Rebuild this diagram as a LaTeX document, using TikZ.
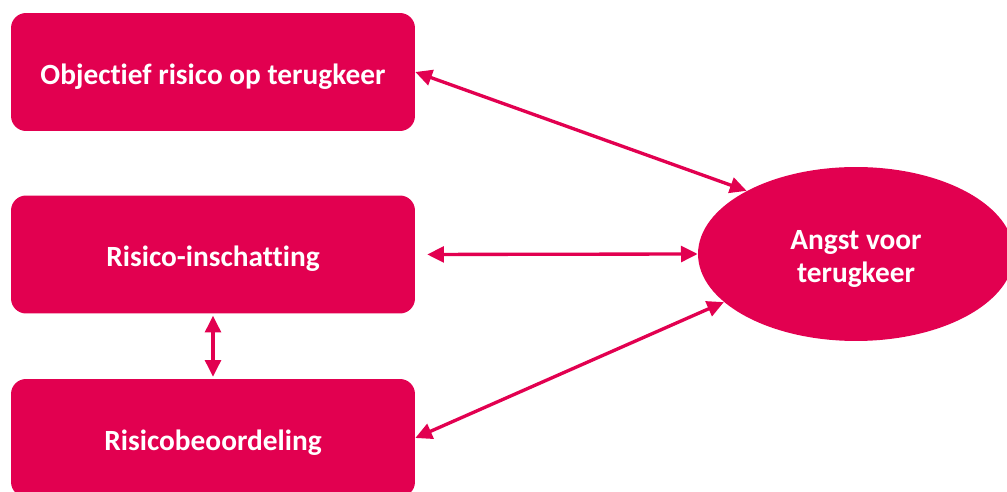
\documentclass[tikz,border=0pt]{standalone}
\usepackage{fontspec}
\setmainfont{Carlito}[Ligatures=NoCommon]
\usepackage{tikz}
\usetikzlibrary{shapes,arrows.meta}
\definecolor{riskred}{RGB}{226,0,80}
\tikzset{>={Triangle[width=9pt,length=9.5pt]}}

\begin{document}
\begin{tikzpicture}[x=0.02cm,y=-0.02cm]
          \tikzstyle{rbox} = [fill=riskred, text=white, rounded corners=0.3cm, minimum width=8.08cm, minimum height=2.36cm, text height=17pt, text depth=3pt, font=\fontsize{16.7}{20}\selectfont\bfseries]
          \tikzstyle{enode} = [fill=riskred, text=white, ellipse, minimum width=6.32cm, minimum height=3.48cm, inner sep=0pt, font=\fontsize{16.7}{18.5}\selectfont\bfseries, align=center]
          \tikzstyle{link} = [riskred, <->, line width=1.9pt]

          \useasboundingbox (0,0) rectangle (1007,492);

          \node[rbox] (obj) at (213,72) {Objectief risico op terugkeer};
          \node[rbox] (inschat) at (213,254.5) {Risico-inschatting};
          \node[rbox] (beoord) at (213,438) {Risicobeoordeling};
          \node[enode] (angst) at (856,254) {\rule{0pt}{1em}Angst voor\\terugkeer};

          \draw[link] (obj.east) -- (angst.150);
          \draw[link, shorten <=6.8pt] (inschat.east) -- (angst.west);
          \draw[link] (beoord.east) -- (angst.200);
          \draw[link, shorten <=1.1pt, shorten >=1.1pt] (inschat.south) -- (beoord.north);
        \end{tikzpicture}
\end{document}
